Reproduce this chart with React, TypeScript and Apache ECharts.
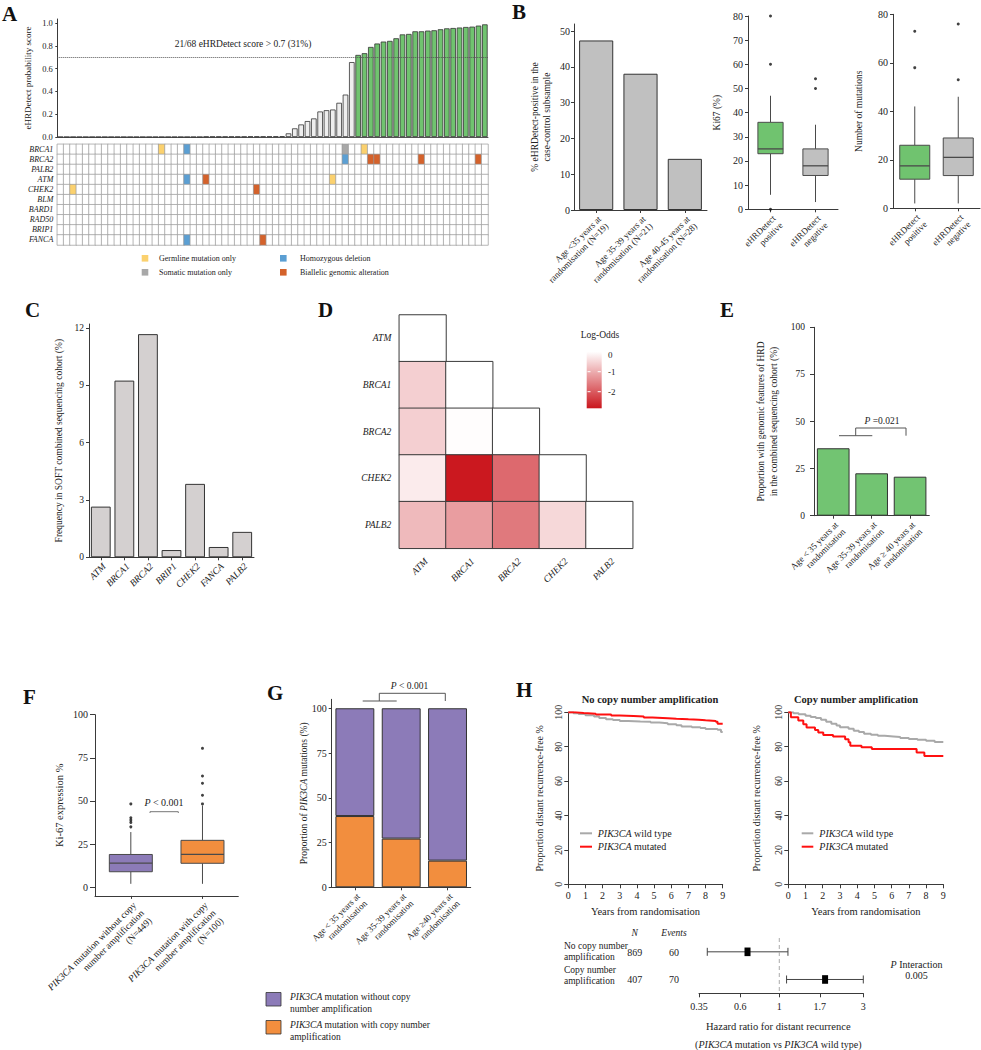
import React, { useEffect, useRef } from "react";
import * as echarts from "echarts";

const SERIF = '"Liberation Serif", "Times New Roman", Times, serif';
const INK = "#222222";
const AXIS = "#3a3a3a";

// ---------------- Panel A ----------------
const aScores = [
  0, 0, 0, 0, 0, 0, 0, 0, 0, 0, 0, 0, 0, 0, 0, 0, 0, 0, 0, 0, 0, 0, 0,
  0.003, 0.003, 0.003, 0.003, 0.003, 0.003, 0.003, 0.004, 0.004, 0.004, 0.004, 0.005, 0.006,
  0.032, 0.076, 0.11, 0.14, 0.163, 0.224, 0.235, 0.241, 0.3, 0.372, 0.657,
  0.72, 0.735, 0.79, 0.82, 0.837, 0.843, 0.866, 0.9, 0.904, 0.927, 0.927, 0.933, 0.936,
  0.945, 0.953, 0.956, 0.96, 0.965, 0.968, 0.977, 0.988,
];
const aThreshold = 0.7;
const aYTicks = [0, 0.2, 0.4, 0.6, 0.8, 1.0];
const aGenes = ["BRCA1", "BRCA2", "PALB2", "ATM", "CHEK2", "BLM", "BARD1", "RAD50", "BRIP1", "FANCA"];
const aTypes = ["Germline mutation only", "Somatic mutation only", "Homozygous deletion", "Biallelic genomic alteration"];
// [gene, sample index (sorted by score), alteration type index]
const aEvents: [string, number, number][] = [
  ["BRCA1", 16, 0], ["BRCA1", 20, 2], ["BRCA1", 45, 1], ["BRCA1", 48, 0],
  ["BRCA2", 45, 2], ["BRCA2", 49, 3], ["BRCA2", 50, 3], ["BRCA2", 57, 3], ["BRCA2", 66, 3],
  ["ATM", 20, 2], ["ATM", 23, 3], ["ATM", 43, 0],
  ["CHEK2", 2, 0], ["CHEK2", 31, 3],
  ["FANCA", 20, 2], ["FANCA", 32, 3],
];

// ---------------- Panel B ----------------
const b1Categories = ["Age <35 years at\nrandomisation (N=19)", "Age 35-39 years at\nrandomisation (N=21)", "Age 40-45 years at\nrandomisation (N=28)"];
const b1Values = [47.4, 38.1, 14.3];
const b1Ticks = [0, 10, 20, 30, 40, 50];
const bGroups = ["eHRDetect\npositive", "eHRDetect\nnegative"];
const b2Ki67Box = [[6, 23, 25, 36, 47], [3, 14, 18, 25, 35]];
const b2Ki67Outliers = [[0, 80], [0, 60], [0, 0], [1, 54], [1, 50]];
const b2Ticks = [0, 10, 20, 30, 40, 50, 60, 70, 80];
const b3MutBox = [[2, 12, 17.5, 26, 42], [2, 13.5, 21, 29, 46]];
const b3MutOutliers = [[0, 73], [0, 58], [1, 76], [1, 53]];
const b3Ticks = [0, 20, 40, 60, 80];

// ---------------- Panel C ----------------
const cGenes = ["ATM", "BRCA1", "BRCA2", "BRIP1", "CHEK2", "FANCA", "PALB2"];
const cFreq = [2.65, 9.24, 11.67, 0.38, 3.84, 0.54, 1.33];
const cTicks = [0, 3, 6, 9, 12];

// ---------------- Panel D ----------------
const dGenes = ["ATM", "BRCA1", "BRCA2", "CHEK2", "PALB2"];
// [row gene, column gene, log-odds]
const dLogOdds: [string, string, number][] = [
  ["ATM", "ATM", 0],
  ["BRCA1", "ATM", -0.58], ["BRCA1", "BRCA1", 0],
  ["BRCA2", "ATM", -0.58], ["BRCA2", "BRCA1", -0.02], ["BRCA2", "BRCA2", 0],
  ["CHEK2", "ATM", -0.24], ["CHEK2", "BRCA1", -2.8], ["CHEK2", "BRCA2", -1.82], ["CHEK2", "CHEK2", 0],
  ["PALB2", "ATM", -0.84], ["PALB2", "BRCA1", -1.19], ["PALB2", "BRCA2", -1.63], ["PALB2", "CHEK2", -0.47], ["PALB2", "PALB2", 0],
];
const dScaleMin = -2.83;
const dLegendTicks = [0, -1, -2];

// ---------------- Panel E ----------------
const eCategories = ["Age < 35 years at\nrandomisation", "Age 35-39 years at\nrandomisation", "Age \u2265 40 years at\nrandomisation"];
const eValues = [35.8, 22.5, 20.7];
const pctTicks = [0, 25, 50, 75, 100];

// ---------------- Panel F ----------------
const fCategories = ["PIK3CA mutation without copy\nnumber amplification\n(N=449)", "PIK3CA mutation with copy\nnumber amplification\n(N=100)"];
const fBox = [[2, 9, 14, 19, 32], [2, 13.9, 19.1, 27.2, 47.3]];
const fOutliers = [[0, 48.3], [0, 40.3], [0, 39], [0, 37.6], [0, 35], [1, 80.5], [1, 64.5], [1, 60.3], [1, 53.3], [1, 48.3]];

// ---------------- Panel G ----------------
const gCategories = ["Age < 35 years at\nrandomisation", "Age 35-39 years at\nrandomisation", "Age \u226540 years at\nrandomisation"];
const gWithAmp = [39.8, 27.2, 14.9];
const gWithoutAmp = [60.2, 72.8, 85.1];

// ---------------- Panel H ----------------
const hNoAmpWildType = [[0, 100], [0.3, 99.5], [0.6, 99], [1.0, 98.3], [1.5, 97.5], [1.8, 96.7], [2.2, 96], [2.6, 95.5], [3.0, 95], [3.5, 94.7], [4.2, 94.5], [4.8, 94], [5.3, 93.7], [5.8, 93], [6.3, 92.5], [6.6, 91.8], [7.2, 91.3], [7.7, 90.8], [8.0, 90.3], [8.7, 89.8], [8.9, 88.6], [9.0, 88.6]];
const hNoAmpMutated = [[0, 100], [0.4, 99.6], [0.9, 99.2], [1.6, 98.7], [2.5, 98.2], [3.0, 97.9], [3.8, 97.5], [4.4, 97], [4.9, 96.6], [5.8, 96.2], [6.3, 95.9], [7.0, 95.7], [7.6, 95.4], [8.0, 95], [8.6, 94.5], [8.7, 93.3], [9.0, 93.3]];
const hAmpWildType = [[0, 100], [0.3, 99.5], [0.6, 98.8], [1.0, 98], [1.3, 97.3], [1.6, 96.7], [1.9, 95.7], [2.2, 94.5], [2.5, 93.3], [2.8, 92.3], [3.0, 91.3], [3.5, 90.5], [3.8, 89.3], [4.1, 88.5], [4.4, 87.6], [4.8, 87], [5.2, 86.4], [5.6, 86], [6.1, 85.6], [6.5, 85.1], [7.0, 84.5], [7.5, 84], [8.0, 83.5], [8.5, 82.7], [9.0, 82.7]];
const hAmpMutated = [[0, 100], [0.15, 97.1], [0.58, 95.2], [0.87, 93], [1.06, 91.1], [1.55, 89.7], [1.74, 88.2], [2.03, 86.8], [2.6, 85.9], [3.3, 84.3], [3.5, 82.6], [3.6, 80.5], [4.25, 79.7], [4.85, 78.7], [7.45, 76.7], [7.9, 74.6], [9.0, 74.6]];
const kmTicks = [0, 20, 40, 60, 80, 100];

const forestRows = ["No copy number\namplification", "Copy number\namplification"];
const forestN = [869, 407];
const forestEvents = [60, 70];
const forestHR = [0.66, 1.82];
const forestLow = [0.39, 1.1];
const forestHigh = [1.12, 3.0];
const forestTicks = [0.35, 0.6, 1, 1.7, 3];
const forestRef = 1;

// ---------------- Colours ----------------
const aTypeColors = ["#fbd16e", "#a8a8a8", "#5b9fd3", "#d4622b"];
const GREEN = "#70c36f";
const PURPLE = "#8c7bb8";
const ORANGE = "#f28e3e";
const GREY_KM = "#a9a9a9";
const RED_KM = "#ff1010";

function lbl(size: number, extra: any = {}) {
  return { color: INK, fontFamily: SERIF, fontSize: size, ...extra };
}

function valY(gridIndex: number, min: number, max: number, ticks: number[], o: any = {}) {
  const axisLabel: any = { ...lbl(o.fontSize ?? 9.5), margin: o.margin ?? 4, customValues: ticks, rotate: o.rotate ?? 0 };
  if (o.formatter) axisLabel.formatter = o.formatter;
  return {
    type: "value", gridIndex, min, max, inverse: false, position: "left",
    axisLine: { show: true, onZero: false, lineStyle: { color: AXIS, width: 1 } },
    axisTick: { show: true, length: o.tickLen ?? 3, lineStyle: { color: AXIS }, customValues: ticks },
    axisLabel,
    splitLine: { show: false },
    name: o.name ?? "", nameLocation: "middle", nameGap: o.nameGap ?? 20, nameMoveOverlap: false,
    nameTextStyle: { ...lbl(o.nameSize ?? 9.5), lineHeight: o.nameLineHeight ?? 12, rich: o.nameRich },
  };
}

function catX(gridIndex: number, data: string[], o: any = {}) {
  const axisLabel: any = {
    ...lbl(o.fontSize ?? 9), interval: 0, rotate: 45, margin: o.margin ?? 4,
    lineHeight: o.lineHeight ?? 10, verticalAlign: "top", align: "right",
  };
  if (o.formatter) axisLabel.formatter = o.formatter;
  if (o.rich) axisLabel.rich = o.rich;
  if (o.italic) axisLabel.fontStyle = "italic";
  return {
    type: "category", gridIndex, data, boundaryGap: true, position: "bottom",
    axisLine: { show: o.line ?? true, onZero: false, lineStyle: { color: AXIS, width: 1 } },
    axisTick: { show: o.ticks ?? true, length: 3, alignWithLabel: true, lineStyle: { color: AXIS } },
    axisLabel,
    splitLine: { show: false },
  };
}

function boxRenderer(colors: string[], ratio: number) {
  return (params: any, api: any) => {
    const x = api.value(0);
    const pMin = api.coord([x, api.value(1)]);
    const pQ1 = api.coord([x, api.value(2)]);
    const pMed = api.coord([x, api.value(3)]);
    const pQ3 = api.coord([x, api.value(4)]);
    const pMax = api.coord([x, api.value(5)]);
    const bw = api.size([1, 0])[0] * ratio;
    const cx = pMin[0];
    const stroke = { stroke: "#4a4a4a", lineWidth: 1 };
    return {
      type: "group",
      children: [
        { type: "line", shape: { x1: cx, y1: pMax[1], x2: cx, y2: pQ3[1] }, style: stroke },
        { type: "line", shape: { x1: cx, y1: pQ1[1], x2: cx, y2: pMin[1] }, style: stroke },
        { type: "rect", shape: { x: cx - bw / 2, y: pQ3[1], width: bw, height: pQ1[1] - pQ3[1] }, style: { fill: colors[params.dataIndex], stroke: "#4a4a4a", lineWidth: 1 } },
        { type: "line", shape: { x1: cx - bw / 2, y1: pMed[1], x2: cx + bw / 2, y2: pMed[1] }, style: { stroke: "#4a4a4a", lineWidth: 1.3 } },
      ],
    };
  };
}

function txt(x: number, y: number, text: string, o: any = {}) {
  return {
    type: "text", x, y, silent: true,
    style: { text, fill: INK, fontFamily: SERIF, fontSize: 10, align: "left", verticalAlign: "middle", ...o },
  };
}
function poly(points: number[][], o: any = {}) {
  return { type: "polyline", silent: true, shape: { points }, style: { stroke: "#555", lineWidth: 1, fill: null, ...o } };
}
function box(x: number, y: number, w: number, h: number, fill: string, stroke?: string) {
  return { type: "rect", silent: true, shape: { x, y, width: w, height: h }, style: { fill, stroke: stroke ?? null, lineWidth: 0.8 } };
}

function buildOption() {
  const aSamples = aScores.map((_, i) => "S" + (i + 1));
  const aGrid: number[][] = [];
  aGenes.forEach((g, r) => {
    aSamples.forEach((_, c) => {
      const ev = aEvents.find((e) => e[0] === g && e[1] === c);
      aGrid.push([c, r, ev ? ev[2] + 1 : 0]);
    });
  });
  const dData = dLogOdds.map(([r, c, v]) => [dGenes.indexOf(c), dGenes.indexOf(r), v]);
  const italicRich = (size: number) => ({ i: { fontStyle: "italic", fontFamily: SERIF, fontSize: size, color: INK } });
  const pik = (s: string) => s.replace("PIK3CA", "{i|PIK3CA}");

  const grids = [
    { left: 57.3, top: 19, width: 430.7, height: 118 }, // 0 A bars
    { left: 57.3, top: 144.3, width: 430.7, height: 100.7 }, // 1 A grid
    { left: 574, top: 24, width: 133, height: 186 }, // 2 B1
    { left: 748, top: 16, width: 90, height: 193.3 }, // 3 B2
    { left: 893, top: 14.3, width: 87, height: 194 }, // 4 B3
    { left: 89, top: 324, width: 165, height: 233.3 }, // 5 C
    { left: 399.3, top: 315, width: 233.4, height: 233.3 }, // 6 D
    { left: 814, top: 327.3, width: 115.3, height: 188.4 }, // 7 E
    { left: 95, top: 714.7, width: 143.3, height: 181.2 }, // 8 F
    { left: 331.7, top: 699.3, width: 139, height: 188 }, // 9 G
    { left: 568.3, top: 712.3, width: 154.4, height: 172 }, // 10 KM1
    { left: 788.3, top: 712.3, width: 155, height: 172 }, // 11 KM2
    { left: 699, top: 938, width: 164.3, height: 55.3 }, // 12 forest
  ].map((g) => ({ ...g, containLabel: false, outerBoundsMode: "none" }));

  const kmX = (gi: number) => ({
    type: "value", gridIndex: gi, min: 0, max: 9, interval: 1, position: "bottom",
    axisLine: { show: true, onZero: false, lineStyle: { color: AXIS } },
    axisTick: { show: true, length: 4, lineStyle: { color: AXIS } },
    axisLabel: { ...lbl(10), margin: 6 },
    splitLine: { show: false },
    name: "Years from randomisation", nameLocation: "middle", nameGap: 22, nameMoveOverlap: false,
    nameTextStyle: lbl(10.5),
  });

  const forestTickLn = forestTicks.map((t) => Math.log(t));

  const xAxis = [
    { type: "category", gridIndex: 0, data: aSamples, boundaryGap: true, position: "bottom", axisLine: { show: true, onZero: false, lineStyle: { color: "#555" } }, axisTick: { show: false }, axisLabel: { show: false } },
    { type: "category", gridIndex: 1, data: aSamples, boundaryGap: true, show: false },
    catX(2, b1Categories, { fontSize: 9, lineHeight: 10 }),
    catX(3, bGroups, { fontSize: 9 }),
    catX(4, bGroups, { fontSize: 9 }),
    catX(5, cGenes, { fontSize: 9.5, italic: true }),
    catX(6, dGenes, { fontSize: 9.5, italic: true, line: false, ticks: false, margin: 8 }),
    catX(7, eCategories, { fontSize: 9 }),
    catX(8, fCategories, { fontSize: 9.5, lineHeight: 11, formatter: (v: string) => pik(v), rich: italicRich(9.5) }),
    catX(9, gCategories, { fontSize: 9 }),
    kmX(10),
    kmX(11),
    {
      type: "value", gridIndex: 12, min: Math.log(0.35), max: Math.log(3), position: "bottom",
      axisLine: { show: true, onZero: false, lineStyle: { color: AXIS } },
      axisTick: { show: true, length: 4, lineStyle: { color: AXIS }, customValues: forestTickLn },
      axisLabel: {
        ...lbl(10), margin: 8, customValues: forestTickLn,
        formatter: (v: number) => {
          const t = forestTicks.find((tt) => Math.abs(Math.log(tt) - v) < 1e-6);
          return t === undefined ? "" : String(t);
        },
      },
      splitLine: { show: false },
    },
  ];

  const yAxis = [
    valY(0, 0, 1.035, aYTicks, { fontSize: 8.5, margin: 4.5, tickLen: 2, formatter: (v: number) => v.toFixed(1), name: "eHRDetect probability score", nameGap: 23, nameSize: 9 }),
    {
      type: "category", gridIndex: 1, data: aGenes, inverse: true,
      axisLine: { show: false }, axisTick: { show: false },
      axisLabel: { ...lbl(8), fontStyle: "italic", margin: 4, interval: 0 },
    },
    valY(2, 0, 52, b1Ticks, { fontSize: 10, name: "% eHRDetect-positive in the\ncase-control subsample", nameGap: 21, nameSize: 9.5, nameLineHeight: 12 }),
    valY(3, 0, 80, b2Ticks, { fontSize: 10, margin: 5, name: "Ki67 (%)", nameGap: 25 }),
    valY(4, 0, 80, b3Ticks, { fontSize: 10, margin: 5, name: "Number of mutations", nameGap: 28 }),
    valY(5, 0, 12.2, cTicks, { fontSize: 9.5, margin: 5, name: "Frequency in SOFT combined sequencing cohort (%)", nameGap: 24 }),
    {
      type: "category", gridIndex: 6, data: dGenes, inverse: true,
      axisLine: { show: false }, axisTick: { show: false },
      axisLabel: { ...lbl(9.5), fontStyle: "italic", margin: 8, interval: 0 },
    },
    valY(7, 0, 100, pctTicks, { fontSize: 9.5, margin: 9, tickLen: 4, name: "Proportion with genomic features of HRD\nin the combined sequencing cohort (%)", nameGap: 34, nameLineHeight: 13 }),
    valY(8, -5, 100, pctTicks, { fontSize: 10, margin: 7, tickLen: 5, name: "Ki-67 expression %", nameGap: 30, nameSize: 10.5 }),
    valY(9, 0, 105, pctTicks, { fontSize: 10, margin: 5, name: "Proportion of {i|PIK3CA} mutations (%)", nameGap: 22, nameSize: 9.5, nameRich: italicRich(9.5) }),
    valY(10, 0, 100, kmTicks, { fontSize: 10, margin: 5, tickLen: 4, rotate: 90, name: "Proportion distant recurrence-free %", nameGap: 23, nameSize: 10 }),
    valY(11, 0, 100, kmTicks, { fontSize: 10, margin: 5, tickLen: 4, rotate: 90, name: "Proportion distant recurrence-free %", nameGap: 26, nameSize: 10 }),
    { type: "value", gridIndex: 12, min: 0, max: 4, inverse: true, show: false },
  ];

  const series: any[] = [
    {
      type: "bar", xAxisIndex: 0, yAxisIndex: 0, barCategoryGap: "12%",
      data: aScores.map((v) => ({ value: v, itemStyle: { color: v > aThreshold ? GREEN : "#eeeeee" } })),
      itemStyle: { borderColor: "#333", borderWidth: 0.8 },
      markLine: {
        silent: true, symbol: "none", label: { show: false },
        lineStyle: { type: "dotted", color: "#555", width: 1 },
        data: [{ yAxis: aThreshold }],
      },
    },
    {
      type: "heatmap", xAxisIndex: 1, yAxisIndex: 1, data: aGrid,
      itemStyle: { borderColor: "#9a9a9a", borderWidth: 0.7 },
      emphasis: { disabled: true },
    },
    {
      type: "bar", xAxisIndex: 2, yAxisIndex: 2, data: b1Values, barCategoryGap: "23%",
      itemStyle: { color: "#c0c0c0", borderColor: "#333", borderWidth: 1 },
    },
    {
      type: "custom", xAxisIndex: 3, yAxisIndex: 3, renderItem: boxRenderer([GREEN, "#c0c0c0"], 0.56),
      data: b2Ki67Box.map((b, i) => [i, ...b]), encode: { x: 0, y: [1, 2, 3, 4, 5] },
    },
    { type: "scatter", xAxisIndex: 3, yAxisIndex: 3, data: b2Ki67Outliers, symbolSize: 3, itemStyle: { color: "#111" } },
    {
      type: "custom", xAxisIndex: 4, yAxisIndex: 4, renderItem: boxRenderer([GREEN, "#c0c0c0"], 0.69),
      data: b3MutBox.map((b, i) => [i, ...b]), encode: { x: 0, y: [1, 2, 3, 4, 5] },
    },
    { type: "scatter", xAxisIndex: 4, yAxisIndex: 4, data: b3MutOutliers, symbolSize: 3, itemStyle: { color: "#111" } },
    {
      type: "bar", xAxisIndex: 5, yAxisIndex: 5, data: cFreq, barCategoryGap: "16%",
      itemStyle: { color: "#d4d0d0", borderColor: "#333", borderWidth: 1 },
    },
    {
      type: "heatmap", xAxisIndex: 6, yAxisIndex: 6, data: dData,
      itemStyle: { borderColor: "#3a3a3a", borderWidth: 1 },
      emphasis: { disabled: true },
    },
    {
      type: "bar", xAxisIndex: 7, yAxisIndex: 7, data: eValues, barCategoryGap: "15%",
      itemStyle: { color: "#72c472", borderColor: "#333", borderWidth: 1 },
    },
    {
      type: "custom", xAxisIndex: 8, yAxisIndex: 8, renderItem: boxRenderer([PURPLE, ORANGE], 0.6),
      data: fBox.map((b, i) => [i, ...b]), encode: { x: 0, y: [1, 2, 3, 4, 5] },
    },
    { type: "scatter", xAxisIndex: 8, yAxisIndex: 8, data: fOutliers, symbolSize: 3, itemStyle: { color: "#111" } },
    {
      type: "bar", xAxisIndex: 9, yAxisIndex: 9, stack: "g", data: gWithAmp, barCategoryGap: "16%",
      itemStyle: { color: ORANGE, borderColor: "#333", borderWidth: 1 },
    },
    {
      type: "bar", xAxisIndex: 9, yAxisIndex: 9, stack: "g", data: gWithoutAmp, barCategoryGap: "16%",
      itemStyle: { color: PURPLE, borderColor: "#333", borderWidth: 1 },
    },
    { type: "line", xAxisIndex: 10, yAxisIndex: 10, step: "end", showSymbol: false, data: hNoAmpWildType, lineStyle: { color: GREY_KM, width: 2 }, z: 3 },
    { type: "line", xAxisIndex: 10, yAxisIndex: 10, step: "end", showSymbol: false, data: hNoAmpMutated, lineStyle: { color: RED_KM, width: 2 }, z: 4 },
    { type: "line", xAxisIndex: 11, yAxisIndex: 11, step: "end", showSymbol: false, data: hAmpWildType, lineStyle: { color: GREY_KM, width: 2 }, z: 3 },
    { type: "line", xAxisIndex: 11, yAxisIndex: 11, step: "end", showSymbol: false, data: hAmpMutated, lineStyle: { color: RED_KM, width: 2 }, z: 4 },
    {
      type: "line", xAxisIndex: 12, yAxisIndex: 12, showSymbol: false,
      data: [[Math.log(forestRef), 0], [Math.log(forestRef), 4]],
      lineStyle: { color: "#aaaaaa", width: 1, type: [4, 3] },
    },
    {
      type: "custom", xAxisIndex: 12, yAxisIndex: 12,
      data: forestHR.map((hr, i) => [Math.log(forestLow[i]), Math.log(hr), Math.log(forestHigh[i]), 2 * i + 1]),
      encode: { x: [0, 1, 2], y: 3 },
      renderItem: (params: any, api: any) => {
        const y = api.value(3);
        const lo = api.coord([api.value(0), y]);
        const mid = api.coord([api.value(1), y]);
        const hi = api.coord([api.value(2), y]);
        const st = { stroke: "#444", lineWidth: 1 };
        return {
          type: "group",
          children: [
            { type: "line", shape: { x1: lo[0], y1: lo[1], x2: hi[0], y2: hi[1] }, style: st },
            { type: "line", shape: { x1: lo[0], y1: lo[1] - 4, x2: lo[0], y2: lo[1] + 4 }, style: st },
            { type: "line", shape: { x1: hi[0], y1: hi[1] - 4, x2: hi[0], y2: hi[1] + 4 }, style: st },
            { type: "rect", shape: { x: mid[0] - 3, y: mid[1] - 4.3, width: 6, height: 8.6 }, style: { fill: "#000" } },
          ],
        };
      },
    },
  ];

  const visualMap = [
    {
      type: "piecewise", show: false, seriesIndex: 1, dimension: 2,
      pieces: [
        { value: 0, color: "#ffffff" },
        { value: 1, color: aTypeColors[0] },
        { value: 2, color: aTypeColors[1] },
        { value: 3, color: aTypeColors[2] },
        { value: 4, color: aTypeColors[3] },
      ],
    },
    {
      type: "continuous", show: false, seriesIndex: 8, dimension: 2,
      min: dScaleMin, max: 0, inRange: { color: ["#ca161d", "#ffffff"] },
    },
  ];

  const letter = (x: number, y: number, t: string) => txt(x, y, t, { fontSize: 21, fontWeight: "bold", fill: "#111" });
  const cbTop = 351.7, cbH = 56.6;
  const cbY = (v: number) => cbTop + (v / dScaleMin) * cbH;
  const rich10 = { i: { fontStyle: "italic", fontFamily: SERIF, fontSize: 10, fill: INK } };
  const rich9 = { i: { fontStyle: "italic", fontFamily: SERIF, fontSize: 9.5, fill: INK } };

  const graphic: any[] = [
    letter(2, 14, "A"), letter(512, 12, "B"), letter(25, 310, "C"), letter(318, 310, "D"),
    letter(720, 310, "E"), letter(23, 697, "F"), letter(267, 693, "G"), letter(516, 690, "H"),
    txt(243, 43.7, "21/68 eHRDetect score > 0.7 (31%)", { align: "center", fontSize: 9.5 }),
    // Panel A legend
    box(141.7, 255, 6.6, 6.6, aTypeColors[0]), txt(159, 258.3, aTypes[0], { fontSize: 8 }),
    box(141.7, 269, 6.6, 6.6, aTypeColors[1]), txt(159, 272.3, aTypes[1], { fontSize: 8 }),
    box(280, 255, 6.6, 6.6, aTypeColors[2]), txt(300, 258.3, aTypes[2], { fontSize: 8 }),
    box(280, 269, 6.6, 6.6, aTypeColors[3]), txt(300, 272.3, aTypes[3], { fontSize: 8 }),
    // Panel D colour bar
    txt(600, 334.5, "Log-Odds", { align: "center", fontSize: 9.5 }),
    {
      type: "rect", silent: true, shape: { x: 586.7, y: cbTop, width: 15, height: cbH },
      style: {
        fill: new echarts.graphic.LinearGradient(0, 0, 0, 1, [
          { offset: 0, color: "#ffffff" },
          { offset: 1, color: "#ca161d" },
        ]),
      },
    },
    ...dLegendTicks.filter((t) => t !== 0).map((t) => poly([[587.5, cbY(t)], [590.5, cbY(t)]], { stroke: "#ffffff" })),
    ...dLegendTicks.filter((t) => t !== 0).map((t) => poly([[597.7, cbY(t)], [600.9, cbY(t)]], { stroke: "#ffffff" })),
    ...dLegendTicks.map((t) => txt(608, t === 0 ? 354.5 : cbY(t), String(t), { fontSize: 9 })),
    // Panel E bracket
    poly([[839, 435.7], [872.3, 435.7]]),
    poly([[855.7, 435.7], [855.7, 428], [906, 428], [906, 435.7]]),
    txt(882, 421, "{i|P} =0.021", { align: "center", fontSize: 9.5, rich: rich9 }),
    // Panel F bracket
    poly([[150, 813], [150, 811.7], [178.3, 811.7], [178.3, 813]], { stroke: "#777" }),
    txt(164, 802.7, "{i|P} < 0.001", { align: "center", fontSize: 10, rich: rich10 }),
    // Panel G bracket
    poly([[362.7, 701], [396.7, 701]]),
    poly([[379.3, 701], [379.3, 693.3], [445.3, 693.3], [445.3, 701]]),
    txt(409.5, 685.7, "{i|P} < 0.001", { align: "center", fontSize: 9.5, rich: rich9 }),
    // Panel G legend
    box(266, 992.5, 15, 13.5, PURPLE, "#333"),
    txt(290, 1003, "{i|PIK3CA} mutation without copy\nnumber amplification", { fontSize: 9.5, lineHeight: 12, rich: rich9 }),
    box(266, 1020.5, 15, 13.5, ORANGE, "#333"),
    txt(290, 1031, "{i|PIK3CA} mutation with copy number\namplification", { fontSize: 9.5, lineHeight: 12, rich: rich9 }),
    // Panel H titles and legends
    txt(650, 699, "No copy number amplification", { align: "center", fontSize: 10.5, fontWeight: "bold" }),
    txt(856, 699, "Copy number amplification", { align: "center", fontSize: 10.5, fontWeight: "bold" }),
    poly([[580, 833.3], [592, 833.3]], { stroke: GREY_KM, lineWidth: 2 }),
    txt(597.7, 833.3, "{i|PIK3CA} wild type", { fontSize: 10, rich: rich10 }),
    poly([[580, 846.7], [592, 846.7]], { stroke: RED_KM, lineWidth: 2 }),
    txt(597.7, 846.7, "{i|PIK3CA} mutated", { fontSize: 10, rich: rich10 }),
    poly([[801.7, 833.3], [813.3, 833.3]], { stroke: GREY_KM, lineWidth: 2 }),
    txt(819.3, 833.3, "{i|PIK3CA} wild type", { fontSize: 10, rich: rich10 }),
    poly([[801.7, 846.7], [813.3, 846.7]], { stroke: RED_KM, lineWidth: 2 }),
    txt(819.3, 846.7, "{i|PIK3CA} mutated", { fontSize: 10, rich: rich10 }),
    // Forest plot table
    txt(634.7, 933.3, "N", { align: "center", fontSize: 9.5, fontStyle: "italic" }),
    txt(674, 933.3, "Events", { align: "center", fontSize: 9.5, fontStyle: "italic" }),
    ...forestRows.map((r, i) => txt(564, i === 0 ? 951.3 : 975.7, r, { fontSize: 9.5, lineHeight: 11 })),
    ...forestN.map((n, i) => txt(634.7, i === 0 ? 952.7 : 979.3, String(n), { align: "center", fontSize: 10 })),
    ...forestEvents.map((n, i) => txt(674, i === 0 ? 952.7 : 979.3, String(n), { align: "center", fontSize: 10 })),
    txt(916.5, 964.3, "{i|P} Interaction", { align: "center", fontSize: 10, rich: rich10 }),
    txt(916.5, 975.5, "0.005", { align: "center", fontSize: 10 }),
    txt(778.3, 1026.7, "Hazard ratio for distant recurrence", { align: "center", fontSize: 10.5 }),
    txt(778.3, 1044, "({i|PIK3CA} mutation vs {i|PIK3CA} wild type)", { align: "center", fontSize: 10, rich: rich10 }),
  ];

  return {
    animation: false,
    backgroundColor: "#ffffff",
    textStyle: { fontFamily: SERIF },
    grid: grids,
    xAxis,
    yAxis,
    visualMap,
    series,
    graphic,
  };
}

export default function App() {
  const ref = useRef<HTMLDivElement>(null);
  useEffect(() => {
    if (!ref.current) return;
    const chart = echarts.init(ref.current, null, { renderer: "svg" });
    chart.setOption(buildOption() as any);
    return () => chart.dispose();
  }, []);
  return (
    <div
      ref={ref}
      style={{ position: "absolute", left: 0, top: 0, width: 981, height: 1050, background: "#fff" }}
    />
  );
}
